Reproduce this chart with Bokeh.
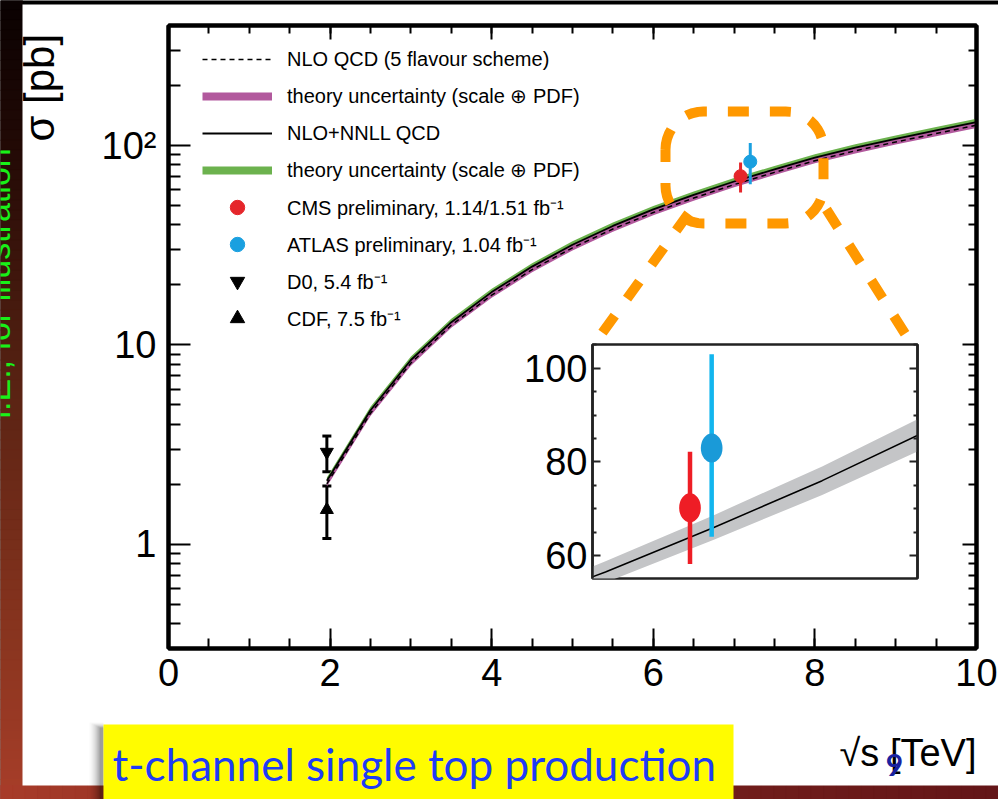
import numpy as np
from bokeh.plotting import figure
from bokeh.models import (Range1d, FixedTicker, LinearAxis, LogAxis, Legend, LegendItem,
                          ColumnDataSource, Whisker, TeeHead, LinearScale, BasicTickFormatter)
from bokeh.embed import file_html
from bokeh.resources import INLINE
from bokeh.core.properties import value

# ---- theory: t-channel single top cross section vs sqrt(s) [TeV], sigma in pb
sqrt_s = [1.96, 2.5, 3.0, 3.5, 4.0, 4.5, 5.0, 5.5, 6.0, 6.5, 7.0, 7.5, 8.0, 8.5, 9.0, 9.5, 10.0]
sigma_nnll = [2.08, 4.7, 8.4, 13.0, 18.4, 24.7, 31.8, 39.5, 47.8, 56.5, 66.0, 76.0, 87.0, 97.5, 108.0, 119.0, 131.0]
sigma_nlo = [2.01, 4.54, 8.11, 12.55, 17.76, 23.84, 30.69, 38.12, 46.13, 54.52, 63.69, 73.34, 83.96, 94.09, 104.2, 114.8, 126.4]
rel_unc_nnll = 0.04      # scale (+) PDF
rel_unc_nlo = 0.03
rel_unc_zoom = 0.04      # band shown in the zoomed panel

# ---- measurements
lhc_names = ["CMS preliminary, 1.14/1.51 fb\u207b\u00b9", "ATLAS preliminary, 1.04 fb\u207b\u00b9"]
lhc_sqrt_s = [7.0, 7.0]
lhc_sigma = [70.2, 83.0]
lhc_err_up = [12.0, 20.0]
lhc_err_dn = [12.0, 19.0]
lhc_colors = ["#e5262b", "#1aa0e0"]

tev_names = ["D0, 5.4 fb\u207b\u00b9", "CDF, 7.5 fb\u207b\u00b9"]
tev_sqrt_s = [1.96, 1.96]
tev_sigma = [2.90, 1.49]
tev_err_up = [0.59, 0.47]
tev_err_dn = [0.59, 0.42]

# horizontal display shifts so the two 7 TeV points do not overlap
main_shift = [0.08, 0.20]
zoom_shift = [-0.11, -0.01]

x_major = [0, 2, 4, 6, 8, 10]
x_minor = [0.5 * i for i in range(21)]
y_major = [1, 10, 100]
y_minor = [k * 10.0 ** e for e in (-1, 0, 1, 2) for k in range(2, 10) if 0.3 <= k * 10.0 ** e <= 400]
y_labels = {1: "1", 10: "10", 100: "10\u00b2"}
zoom_major = [60, 80, 100]
zoom_minor = [55, 65, 70, 75, 85, 90, 95, 105]

GREEN = "#6cb24e"
MAGENTA = "#b2599d"
ORANGE = "#ff9800"
SANS = "Liberation Sans"

W, H = 998, 799

# ================= slide background (pixel space, y downwards) =================
base = figure(width=W, height=H, x_range=Range1d(0, W), y_range=Range1d(H, 0),
              output_backend="svg", toolbar_location=None,
              x_axis_location=None, y_axis_location=None, min_border=0)
base.grid.visible = False
base.outline_line_color = None
base.background_fill_color = "black"
base.border_fill_color = "black"


def mix(stops_pos, stops_col, t):
    r = np.interp(t, stops_pos, [c[0] for c in stops_col])
    g = np.interp(t, stops_pos, [c[1] for c in stops_col])
    b = np.interp(t, stops_pos, [c[2] for c in stops_col])
    return "#%02x%02x%02x" % (int(r), int(g), int(b))


# dark red gradient strip on the left
n = 80
edges = np.linspace(0, H, n + 1)
cols = [mix([0, 150, 400, 650, 799],
            [(10, 2, 2), (35, 10, 6), (92, 36, 20), (140, 54, 32), (168, 62, 42)],
            0.5 * (edges[i] + edges[i + 1])) for i in range(n)]
base.quad(left=0, right=22, top=edges[:-1], bottom=edges[1:], fill_color=cols, line_color=cols)

# bottom strip
edges_x = np.linspace(0, W, n + 1)
cols_x = [mix([0, 400, 998], [(168, 60, 42), (130, 40, 32), (100, 22, 24)],
              0.5 * (edges_x[i] + edges_x[i + 1])) for i in range(n)]
base.quad(left=edges_x[:-1], right=edges_x[1:], top=785, bottom=H, fill_color=cols_x, line_color=cols_x)

# rotated green remark on the left edge (partly outside the slide)
base.text(x=[-3], y=[418], text=["i.E., for illustration"], angle=np.pi / 2,
          text_color="#19f019", text_font=value(SANS), text_font_size="34px",
          text_align="left", text_baseline="alphabetic")

# white slide panel
base.quad(left=22, right=W, top=4, bottom=785, fill_color="white", line_color=None)

# y axis title
base.text(x=[39], y=[141], text=["\u03c3 [pb]"], angle=np.pi / 2,
          text_color="black", text_font=value(SANS), text_font_size="42px",
          text_align="left", text_baseline="alphabetic")

# x axis title
base.text(x=[976], y=[752], text=["\u221as [TeV]"], text_color="black",
          text_font=value(SANS), text_font_size="38px",
          text_align="right", text_baseline="middle")

# yellow caption box with soft shadow
for i, a in enumerate([0.04, 0.07, 0.10, 0.14, 0.18, 0.22]):
    base.quad(left=89 + 2 * i, right=103, top=722 + i, bottom=H, fill_color="black",
              fill_alpha=a * 0.6, line_color=None)
base.quad(left=103, right=733, top=724, bottom=H, fill_color="#fffc00", line_color=None)
base.text(x=[112], y=[763], text=["t-channel single top production"], text_color="#1f3cf5",
          text_font=value("Lato"), text_font_size="44px",
          text_align="left", text_baseline="middle")

# page number
base.text(x=[894], y=[764], text=["9"], text_color="#1a22a0",
          text_font=value("Lato"), text_font_style="bold", text_font_size="30px",
          text_align="center", text_baseline="middle")

# ================= main log plot =================
main = figure(width=W, height=H, x_range=Range1d(0, 10), y_range=Range1d(0.3, 400),
              y_axis_type="log", output_backend="svg", toolbar_location=None,
              min_border_left=168, min_border_right=22, min_border_top=25, min_border_bottom=151)
main.background_fill_color = None
main.border_fill_color = None
main.grid.visible = False
main.outline_line_color = "black"
main.outline_line_width = 4
main.styles = {"position": "absolute", "left": "0px", "top": "0px"}

x_ticker = FixedTicker(ticks=x_major, minor_ticks=x_minor)
y_ticker = FixedTicker(ticks=y_major, minor_ticks=y_minor)
main.xaxis.ticker = x_ticker
main.yaxis.ticker = y_ticker
main.yaxis.formatter = BasicTickFormatter()
overrides = dict(y_labels)
overrides.update({str(k): v for k, v in y_labels.items()})
main.yaxis.major_label_overrides = overrides
main.add_layout(LinearAxis(ticker=x_ticker), "above")
main.add_layout(LogAxis(ticker=y_ticker), "right")


def style_axis(ax, show_labels, tick_major, tick_minor, width, size="38px"):
    ax.axis_line_width = width
    ax.axis_line_color = "black"
    ax.major_tick_in = tick_major
    ax.major_tick_out = 0
    ax.minor_tick_in = tick_minor
    ax.minor_tick_out = 0
    ax.major_tick_line_width = 2
    ax.minor_tick_line_width = 2
    ax.major_tick_line_color = "black"
    ax.minor_tick_line_color = "black"
    if show_labels:
        ax.major_label_text_font = SANS
        ax.major_label_text_font_size = size
        ax.major_label_text_color = "black"
    else:
        # mirrored ticks only
        ax.major_label_text_font_size = "1px"
        ax.major_label_text_color = None
        ax.major_label_text_alpha = 0
        ax.major_label_standoff = 0


for ax in main.below:
    style_axis(ax, True, 20, 10, 4)
    ax.major_label_standoff = 10
for ax in main.left:
    style_axis(ax, True, 22, 12, 4)
    ax.major_label_standoff = 12
for ax in main.above + main.right:
    style_axis(ax, False, 14, 8, 4)

# uncertainty bands
nlo = np.array(sigma_nlo)
nnll = np.array(sigma_nnll)
main.varea(x=sqrt_s, y1=nnll * (1 - rel_unc_nnll), y2=nnll * (1 + rel_unc_nnll), fill_color=GREEN)
main.varea(x=sqrt_s, y1=nlo * (1 - rel_unc_nlo), y2=nlo * (1 + rel_unc_nlo), fill_color=MAGENTA)
r_nlo = main.line(sqrt_s, sigma_nlo, line_color="black", line_width=1.5, line_dash="5 4")
r_nnll = main.line(sqrt_s, sigma_nnll, line_color="black", line_width=1.8)
# legend samples for the bands (kept outside the visible x range)
r_band_nlo = main.line([-2, -1], [1, 1], line_color=MAGENTA, line_width=8)
r_band_nnll = main.line([-2, -1], [1, 1], line_color=GREEN, line_width=8)

# Tevatron measurements
tev_src = ColumnDataSource(dict(x=tev_sqrt_s,
                                lo=[s - d for s, d in zip(tev_sigma, tev_err_dn)],
                                hi=[s + u for s, u in zip(tev_sigma, tev_err_up)]))
main.add_layout(Whisker(source=tev_src, base="x", lower="lo", upper="hi", dimension="height",
                        line_width=3, line_color="black",
                        upper_head=TeeHead(size=9, line_width=3, line_color="black"),
                        lower_head=TeeHead(size=9, line_width=3, line_color="black")))
r_d0 = main.scatter([tev_sqrt_s[0]], [tev_sigma[0]], marker="inverted_triangle", size=13,
                    color="black")
r_cdf = main.scatter([tev_sqrt_s[1]], [tev_sigma[1]], marker="triangle", size=13, color="black")

# LHC measurements
r_lhc = []
for i in range(2):
    xm = lhc_sqrt_s[i] + main_shift[i]
    main.segment(x0=[xm], y0=[lhc_sigma[i] - lhc_err_dn[i]], x1=[xm], y1=[lhc_sigma[i] + lhc_err_up[i]],
                 line_color=lhc_colors[i], line_width=3)
    r_lhc.append(main.scatter([xm], [lhc_sigma[i]], marker="circle", size=13,
                              color=lhc_colors[i]))

# dashed magnifier outline (page pixel coordinates)
main.extra_x_ranges = {"px": Range1d(168, 976)}
main.extra_y_ranges = {"py": Range1d(648, 25)}
main.extra_x_scales = {"px": LinearScale()}
main.extra_y_scales = {"py": LinearScale()}
L, R, T, B, rad = 665, 823, 111, 223, 38
ang = np.linspace(0, np.pi / 2, 12)
path_x = np.concatenate([L + rad - rad * np.cos(ang), R - rad + rad * np.sin(ang),
                         R - rad + rad * np.cos(ang), L + rad - rad * np.sin(ang), [L]])
path_y = np.concatenate([T + rad - rad * np.sin(ang), T + rad - rad * np.cos(ang),
                         B - rad + rad * np.sin(ang), B - rad + rad * np.cos(ang), [T + rad]])
main.line(path_x, path_y, x_range_name="px", y_range_name="py", line_color=ORANGE,
          line_width=10, line_dash="21 21")
main.line([688, 592], [213, 346], x_range_name="px", y_range_name="py", line_color=ORANGE,
          line_width=10, line_dash="21 21")
main.line([826, 912], [209, 345], x_range_name="px", y_range_name="py", line_color=ORANGE,
          line_width=10, line_dash="21 21")

legend = Legend(items=[
    LegendItem(label="NLO QCD (5 flavour scheme)", renderers=[r_nlo]),
    LegendItem(label="theory uncertainty (scale \u2295 PDF)", renderers=[r_band_nlo]),
    LegendItem(label="NLO+NNLL QCD", renderers=[r_nnll]),
    LegendItem(label="theory uncertainty (scale \u2295 PDF)", renderers=[r_band_nnll]),
    LegendItem(label=lhc_names[0], renderers=[r_lhc[0]]),
    LegendItem(label=lhc_names[1], renderers=[r_lhc[1]]),
    LegendItem(label=tev_names[0], renderers=[r_d0]),
    LegendItem(label=tev_names[1], renderers=[r_cdf]),
], location=(34, 312))
legend.glyph_width = 70
legend.glyph_height = 36
legend.label_height = 36
legend.label_standoff = 15
legend.spacing = 1
legend.padding = 0
legend.margin = 0
legend.border_line_color = None
legend.background_fill_alpha = 0
legend.label_text_font = SANS
legend.label_text_font_size = "20px"
legend.label_text_color = "black"
main.add_layout(legend, "center")

# ================= zoomed panel around 7 TeV =================
zoom = figure(width=427, height=258, x_range=Range1d(6.44, 7.94), y_range=Range1d(55.1, 105.1),
              output_backend="svg", toolbar_location=None, x_axis_location=None,
              min_border_left=92, min_border_right=10, min_border_top=14, min_border_bottom=10)
zoom.styles = {"position": "absolute", "left": "500px", "top": "330px"}
zoom.background_fill_color = "white"
zoom.border_fill_color = None
zoom.grid.visible = False
zoom.outline_line_color = "#222222"
zoom.outline_line_width = 2.5
z_ticker = FixedTicker(ticks=zoom_major, minor_ticks=zoom_minor)
zoom.yaxis.ticker = z_ticker
zoom.add_layout(LinearAxis(ticker=z_ticker), "right")
for ax in zoom.left:
    style_axis(ax, True, 8, 4, 2.5)
    ax.major_label_standoff = 5
for ax in zoom.right:
    style_axis(ax, False, 8, 4, 2.5)
for ax in zoom.left + zoom.right:
    ax.axis_line_color = "#222222"
    ax.major_tick_line_color = "#222222"
    ax.minor_tick_line_color = "#222222"

zoom.varea(x=sqrt_s, y1=nnll * (1 - rel_unc_zoom), y2=nnll * (1 + rel_unc_zoom), fill_color="#c4c5c7")
zoom.line(sqrt_s, sigma_nnll, line_color="black", line_width=1.5)
zoom_bar_colors = ["#ee1d25", "#12b5ee"]
zoom_dot_colors = ["#ee1d25", "#1a9ad8"]
for i in range(2):
    xz = lhc_sqrt_s[i] + zoom_shift[i]
    zoom.segment(x0=[xz], y0=[lhc_sigma[i] - lhc_err_dn[i]], x1=[xz], y1=[lhc_sigma[i] + lhc_err_up[i]],
                 line_color=zoom_bar_colors[i], line_width=4.5)
    zoom.ellipse(x=[xz], y=[lhc_sigma[i]], width=0.1, height=6.2, fill_color=zoom_dot_colors[i],
                 line_color=None)

# three stacked roots: slide background, main plot, zoomed panel
p = [base, main, zoom]
open("out.html", "w").write(file_html(p, INLINE))
